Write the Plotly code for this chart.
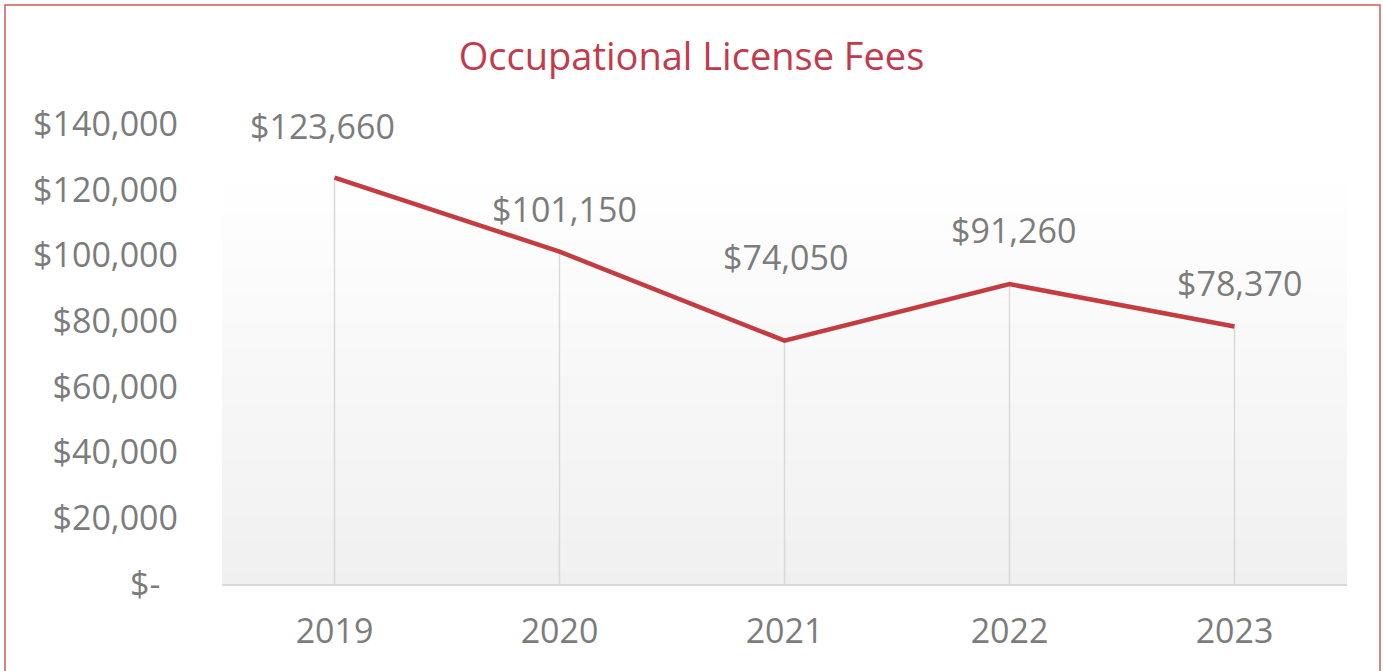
import plotly.graph_objects as go

years = ["2019", "2020", "2021", "2022", "2023"]
fees = [123660, 101150, 74050, 91260, 78370]
label_text = ["$123,660", "$101,150", "$74,050", "$91,260", "$78,370"]
y_ticks = [0, 20000, 40000, 60000, 80000, 100000, 120000, 140000]
y_tick_text = ["$-\u00a0\u00a0", "$20,000", "$40,000", "$60,000", "$80,000",
               "$100,000", "$120,000", "$140,000"]

# label placement tweaks (pixels) relative to each point
label_dx = [-12, 5, 1, 4, 5]
label_dy = [52, 43, 84, 54, 44]

FONT = "Open Sans"
GRAY = "#7c7c7c"
LINE_RED = "#c43c3f"
TITLE_RED = "#c23a4c"

W, H = 1383, 671
ML, MR, MT, MB = 222, 36, 124, 87
PW, PH = W - ML - MR, H - MT - MB

fig = go.Figure()

# drop lines
dx, dy = [], []
for yr, v in zip(years, fees):
    dx += [yr, yr, None]
    dy += [0, v, None]
fig.add_trace(go.Scatter(x=dx, y=dy, mode="lines",
                         line=dict(color="#d9d9d9", width=1.5),
                         hoverinfo="skip", showlegend=False))

fig.add_trace(go.Scatter(x=years, y=fees, mode="lines",
                         line=dict(color=LINE_RED, width=4.5),
                         showlegend=False))

for i, (v, t, ddx, ddy) in enumerate(zip(fees, label_text, label_dx, label_dy)):
    fig.add_annotation(x=i, y=v, text=t, showarrow=False, xshift=ddx, yshift=ddy,
                       font=dict(family=FONT, size=34, color=GRAY),
                       xanchor="center", yanchor="middle")

shapes = []
# subtle background gradient (light gray at bottom fading to white upward)
n = 30
top = 0.9
for k in range(n):
    t = k / (n - 1)
    g = round(240 + (255 - 240) * t)
    shapes.append(dict(type="rect", xref="x domain", yref="y domain",
                       x0=0, x1=1, y0=top * k / n, y1=top * (k + 1) / n + 0.002,
                       fillcolor=f"rgb({g},{g},{g})", line=dict(width=0),
                       layer="below"))
# red outer border
def px2paper_x(px):
    return (px - ML) / PW
def px2paper_y(py):
    return (H - MB - py) / PH
shapes.append(dict(type="rect", xref="paper", yref="paper",
                   x0=px2paper_x(5), x1=px2paper_x(1380),
                   y0=px2paper_y(676), y1=px2paper_y(5),
                   line=dict(color="#d45a5a", width=1.5), fillcolor="rgba(0,0,0,0)"))

fig.update_layout(
    width=W, height=H,
    margin=dict(l=ML, r=MR, t=MT, b=MB, pad=0),
    paper_bgcolor="white", plot_bgcolor="white",
    title=dict(text="Occupational License Fees", x=0.5, xanchor="center",
               y=(H - 57) / H, yanchor="middle", yref="container",
               font=dict(family=FONT, size=38, color=TITLE_RED)),
    shapes=shapes,
    xaxis=dict(type="category", range=[-0.5, 4.5], showgrid=False, zeroline=False,
               showline=True, linecolor="#d9d9d9", linewidth=1.5,
               ticks="", ticklabelstandoff=16,
               tickfont=dict(family=FONT, size=34, color=GRAY)),
    yaxis=dict(range=[0, 140000], tickvals=y_ticks, ticktext=y_tick_text,
               showgrid=False, zeroline=False, showline=False, ticks="",
               ticklabelstandoff=43,
               tickfont=dict(family=FONT, size=34, color=GRAY)),
    hovermode=False,
)

fig.write_html("out.html", config={"displayModeBar": False},
               post_script="document.body.style.margin='0';")
